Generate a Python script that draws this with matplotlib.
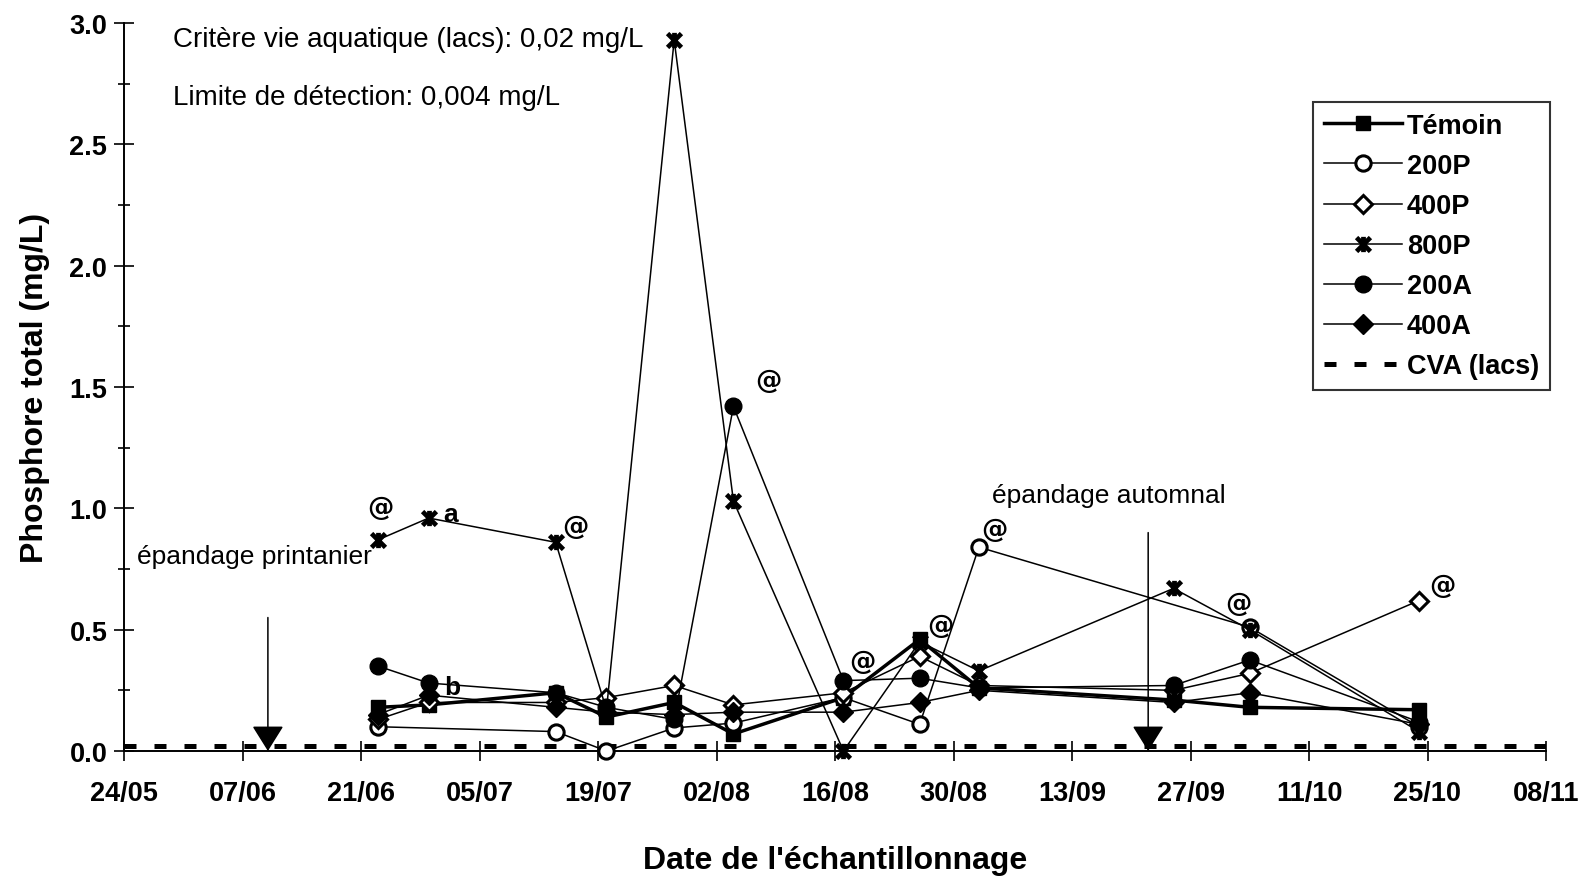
import matplotlib
matplotlib.use('Agg')
import matplotlib.pyplot as plt
from matplotlib.path import Path
from datetime import datetime, timedelta

plt.rcParams['font.family'] = ['Liberation Sans', 'DejaVu Sans']

# année arbitraire (non indiquée sur le graphique)
YEAR = 1999

# dates d'échantillonnage
dates = ['23/06', '29/06', '14/07', '20/07', '28/07', '04/08',
         '17/08', '26/08', '02/09', '25/09', '04/10', '24/10']

# phosphore total (mg/L), None = pas de mesure
temoin = [0.18, 0.19, 0.24, 0.14, 0.20, 0.07, 0.22, 0.46, 0.26, 0.21, 0.18, 0.17]
p200 = [0.10, None, 0.08, 0.00, 0.095, 0.115, 0.22, 0.11, 0.84, None, 0.51, 0.10]
p400 = [0.13, 0.20, 0.20, 0.22, 0.27, 0.19, 0.24, 0.39, 0.27, 0.25, 0.32, 0.62]
p800 = [0.87, 0.96, 0.86, 0.17, 2.93, 1.03, 0.00, 0.45, 0.33, 0.67, 0.50, 0.08]
a200 = [0.35, 0.28, 0.24, 0.18, 0.13, 1.42, 0.29, 0.30, 0.26, 0.27, 0.375, 0.12]
a400 = [0.15, 0.23, 0.18, 0.16, 0.15, 0.16, 0.16, 0.20, 0.25, 0.20, 0.24, 0.11]

noms = ['Témoin', '200P', '400P', '800P', '200A', '400A']
valeurs = [temoin, p200, p400, p800, a200, a400]

cva = 0.02  # critère vie aquatique (lacs)
epandages = [('10/06', 'épandage printanier'), ('22/09', 'épandage automnal')]

# annotations "@", "a", "b" : (série, date, texte)
notes = [('800P', '23/06', '@'), ('800P', '14/07', '@'), ('200A', '04/08', '@'),
         ('200A', '17/08', '@'), ('Témoin', '26/08', '@'), ('200P', '02/09', '@'),
         ('800P', '04/10', '@'), ('400P', '24/10', '@'),
         ('800P', '29/06', 'a'), ('200A', '29/06', 'b')]


def d(s):
    return datetime.strptime(s + '/' + str(YEAR), '%d/%m/%Y')


# marqueur étoile style Excel (x + barre verticale)
etoile = Path([(-1, -1), (1, 1), (-1, 1), (1, -1), (0, -1.1), (0, 1.1)],
              [Path.MOVETO, Path.LINETO, Path.MOVETO, Path.LINETO, Path.MOVETO, Path.LINETO])

styles = {
    'Témoin': dict(marker='s', ms=10, mfc='k', mew=1, lw=2.5),
    '200P': dict(marker='o', ms=11, mfc='white', mew=2.2, lw=1.1),
    '400P': dict(marker='D', ms=9, mfc='white', mew=2.2, lw=1.1),
    '800P': dict(marker=etoile, ms=11, mfc='none', mew=3.4, lw=1.1),
    '200A': dict(marker='o', ms=12, mfc='k', mew=1, lw=1.1),
    '400A': dict(marker='D', ms=10, mfc='k', mew=1, lw=1.1),
}

W, H = 1579, 878
fig = plt.figure(figsize=(W / 100, H / 100), dpi=100)
ax = fig.add_axes([124 / W, 1 - 752 / H, (1546 - 124) / W, (752 - 24) / H])

for nom, vals in zip(noms, valeurs):
    x = [d(t) for t, v in zip(dates, vals) if v is not None]
    y = [v for v in vals if v is not None]
    st = styles[nom]
    ax.plot(x, y, color='k', lw=st['lw'], marker=st['marker'], ms=st['ms'],
            mfc=st['mfc'], mec='k', mew=st['mew'], label=nom, clip_on=False, zorder=3)

ax.axhline(cva, color='k', lw=3.6, linestyle=(0, (2.4, 3.6)), dash_capstyle='butt',
           label='CVA (lacs)', zorder=2)

# @, a, b
decal_at = [(1.5, 24), (14, 12), (25, 19), (14, 14), (15, 10), (11, 13), (-8, 19), (17, 11)]
i_at = 0
for serie, date, txt in notes:
    v = valeurs[noms.index(serie)][dates.index(date)]
    if txt == '@':
        off = decal_at[i_at]
        i_at += 1
        ax.annotate(txt, (d(date), v), xytext=off, textcoords='offset points',
                    ha='center', va='center', fontsize=19, fontweight='bold',
                    family=['DejaVu Sans'])
    else:
        off = (16, 3) if txt == 'a' else (17, -3)
        ax.annotate(txt, (d(date), v), xytext=off, textcoords='offset points',
                    ha='center', va='center', fontsize=19, fontweight='bold')

# flèches d'épandage
hauts = [0.55, 0.90]
for (date, lab), h in zip(epandages, hauts):
    ax.annotate('', xy=(d(date), 0.0), xytext=(d(date), h),
                arrowprops=dict(arrowstyle='-|>,head_length=0.8,head_width=0.5',
                                mutation_scale=20, lw=1.1, color='k', shrinkA=0, shrinkB=0))

fig.text(137 / W, 1 - 557 / H, epandages[0][1], fontsize=19, va='center', ha='left')
fig.text(992 / W, 1 - 496 / H, epandages[1][1], fontsize=19, va='center', ha='left')
fig.text(173 / W, 1 - 40 / H, 'Critère vie aquatique (lacs): 0,02 mg/L', fontsize=20, va='center')
fig.text(173 / W, 1 - 98 / H, 'Limite de détection: 0,004 mg/L', fontsize=20, va='center')

# axes
debut, fin = d('24/05'), d('08/11')
ax.set_xlim(debut, fin)
ax.set_ylim(0, 3.0)
ticks = [debut + timedelta(days=14 * i) for i in range(13)]
ax.set_xticks(ticks)
ax.set_xticklabels([t.strftime('%d/%m') for t in ticks])
ax.set_yticks([0.5 * i for i in range(7)])
ax.set_yticklabels(['%.1f' % (0.5 * i) for i in range(7)])
ax.set_yticks([0.25 + 0.5 * i for i in range(6)], minor=True)

for s in ['top', 'right']:
    ax.spines[s].set_visible(False)
for s in ['left', 'bottom']:
    ax.spines[s].set_linewidth(1.4)

ax.tick_params(axis='x', direction='inout', length=14, width=1.2, pad=14, labelsize=19.5)
ax.tick_params(axis='y', which='major', direction='inout', length=14, width=1.2, pad=5, labelsize=19.5)
ax.tick_params(axis='y', which='minor', direction='inout', length=8, width=1.2)
plt.setp(ax.get_xticklabels(), fontweight='bold')
plt.setp(ax.get_yticklabels(), fontweight='bold')

ax.set_ylabel('Phosphore total (mg/L)', fontsize=23, fontweight='bold', labelpad=14)
ax.set_xlabel("Date de l'échantillonnage", fontsize=23, fontweight='bold', labelpad=28)

leg = ax.legend(loc='upper right', bbox_to_anchor=(1550 / W, 1 - 103 / H),
                bbox_transform=fig.transFigure, frameon=True, fancybox=False,
                edgecolor='k', prop={'weight': 'bold', 'size': 19.5}, handlelength=2.85,
                handletextpad=0.2, labelspacing=0.52, borderpad=0.4, borderaxespad=0)
leg.get_frame().set_linewidth(1.5)

fig.savefig('out.png', dpi=100)
